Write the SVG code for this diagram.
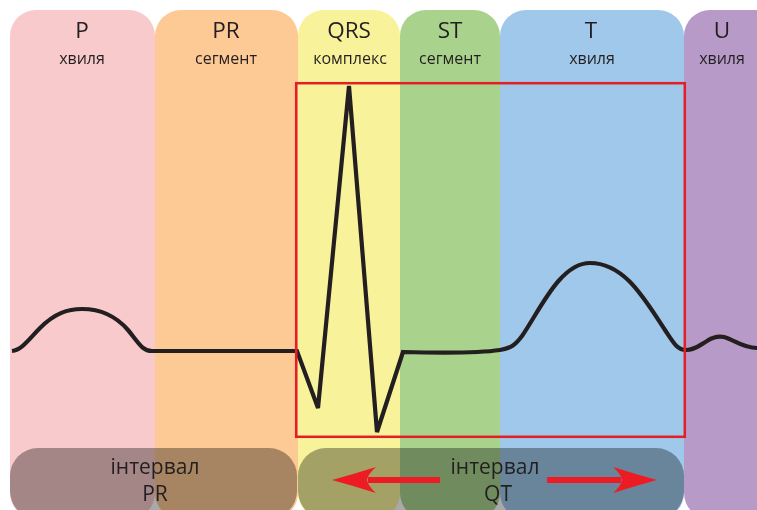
<svg xmlns="http://www.w3.org/2000/svg" width="757" height="510" viewBox="0 0 757 510">
<style>
.col{stroke:none}
.big{font-family:"Open Sans","Noto Sans",sans-serif;font-size:22.5px;fill:#231f20;text-anchor:middle}
.sm{font-family:"Open Sans","Noto Sans",sans-serif;font-size:16px;font-weight:500;fill:#231f20;text-anchor:middle}
.iv{font-family:"Open Sans","Noto Sans",sans-serif;font-size:21px;fill:#231f20;text-anchor:middle}
.box{fill:#a9a9a9;mix-blend-mode:multiply}
.ecg{fill:none;stroke:#231f20;stroke-width:4.2;stroke-linejoin:miter;stroke-linecap:butt}
.arr{fill:#ed1c24}
</style>
<rect width="757" height="510" fill="#ffffff"/>
<g id="col-P"><rect class="col" x="10" y="10" width="145" height="509" rx="26" fill="#f8cacc"/><text class="big" x="82" y="38">P</text><text class="sm" x="82" y="64">хвиля</text></g>
<g id="col-PR"><rect class="col" x="155" y="10" width="143" height="509" rx="26" fill="#fdc994"/><text class="big" x="226" y="38">PR</text><text class="sm" x="226" y="64">сегмент</text></g>
<g id="col-QRS"><rect class="col" x="298" y="10" width="102" height="509" rx="26" fill="#f8f39a"/><text class="big" x="349" y="38">QRS</text><text class="sm" x="350" y="64">комплекс</text></g>
<g id="col-ST"><rect class="col" x="400" y="10" width="100" height="509" rx="26" fill="#a9d38d"/><text class="big" x="450" y="38">ST</text><text class="sm" x="450" y="64">сегмент</text></g>
<g id="col-T"><rect class="col" x="500" y="10" width="184" height="509" rx="26" fill="#9fc8ea"/><text class="big" x="591" y="38">T</text><text class="sm" x="592" y="64">хвиля</text></g>
<g id="col-U"><rect class="col" x="684" y="10" width="110" height="509" rx="26" fill="#b89ac8"/><text class="big" x="722" y="38">U</text><text class="sm" x="722" y="64">хвиля</text></g>
<g id="connectors">
<path class="ecg" d="M12,351 C22,350 30,338 40,328 C55,313 68,309 82,309 C100,309 115,315 128,330 C138,342 142,351 152,351 L297,351 L318,408 L349,86 L377,432 L403,352 C440,353 480,353 500,350 C512,348 516,344 522,336 C540,310 560,263 590,263 C625,263 645,300 665,330 C673,342 677,350 686,350 C695,350 700,345 707,341 C713,337 718,336 724,337 C735,340 742,348 757,348"/>
</g>
<g id="qt-frame"><rect x="296.2" y="83.2" width="388.6" height="353.6" fill="none" stroke="#e31e25" stroke-width="2.5"/></g>
<g id="interval-PR"><rect class="box" x="10" y="448" width="287" height="71" rx="28"/><text class="iv" x="155" y="474">інтервал</text><text class="iv" x="155" y="501">PR</text></g>
<g id="interval-QT"><rect class="box" x="298" y="448" width="386" height="71" rx="28"/><text class="iv" x="495" y="474">інтервал</text><text class="iv" x="498" y="501">QT</text>
<rect class="arr" x="368" y="477" width="72" height="6"/>
<path class="arr" d="M332,480 Q354,474 376,467 Q368,474 367,480 Q368,486 376,493 Q354,486 332,480 Z"/>
<rect class="arr" x="547" y="477" width="74" height="6"/>
<path class="arr" d="M657,480 Q635,474 613,467 Q621,474 622,480 Q621,486 613,493 Q635,486 657,480 Z"/>
</g>
</svg>
